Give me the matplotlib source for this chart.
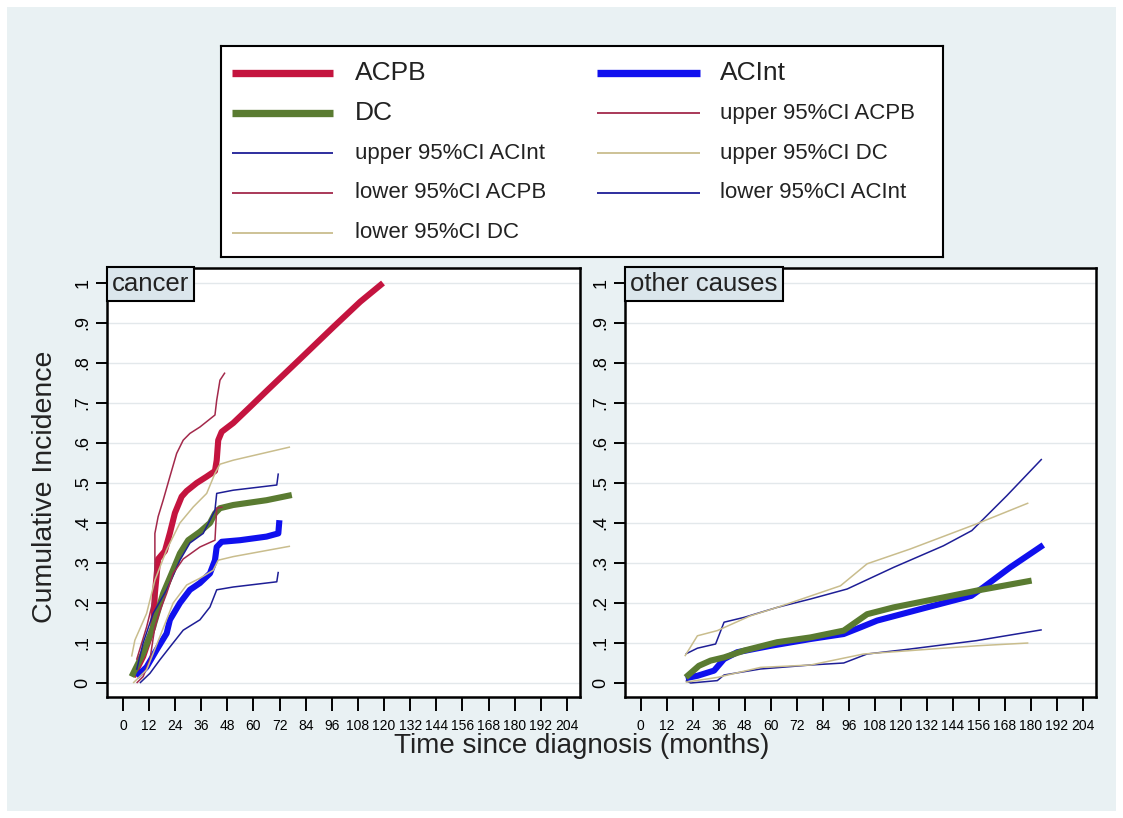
import numpy as np
import matplotlib.pyplot as plt
from matplotlib.patches import Rectangle

plt.rcParams['font.family'] = ['Liberation Sans', 'DejaVu Sans']

# ---- data (months, cumulative incidence) ----
# cancer panel
ca_acpb_t = [4.7, 9.3, 13.9, 14.7, 16.2, 19.3, 21.6, 23.9, 27.0, 29.3, 33.9, 38.5, 42.3, 43.1, 43.8, 45.4, 50.7, 58.4, 66.0, 81.4, 96.7, 109.0, 119.5]
ca_acpb_v = [0.016, 0.066, 0.14, 0.224, 0.31, 0.33, 0.375, 0.425, 0.466, 0.48, 0.50, 0.516, 0.53, 0.557, 0.607, 0.628, 0.65, 0.69, 0.73, 0.81, 0.89, 0.953, 1.0]
ca_acint_t = [6.3, 10.9, 15.5, 20.1, 21.6, 26.2, 30.8, 35.4, 40.0, 42.3, 43.1, 45.4, 53.8, 66.0, 71.4, 71.9]
ca_acint_v = [0.016, 0.04, 0.083, 0.124, 0.158, 0.20, 0.233, 0.25, 0.274, 0.307, 0.34, 0.353, 0.357, 0.366, 0.374, 0.407]
ca_dc_t = [4.0, 9.3, 13.9, 18.5, 22.4, 26.2, 30.0, 35.4, 40.0, 42.3, 44.6, 50.7, 66.0, 77.6]
ca_dc_v = [0.016, 0.074, 0.14, 0.224, 0.274, 0.324, 0.357, 0.378, 0.40, 0.424, 0.437, 0.445, 0.457, 0.47]
ca_up_acpb_t = [6.3, 10.9, 14.7, 14.7, 16.2, 18.5, 21.6, 24.7, 27.7, 30.8, 35.4, 42.3, 43.1, 44.6, 46.9]
ca_up_acpb_v = [0.058, 0.14, 0.224, 0.374, 0.416, 0.457, 0.516, 0.574, 0.607, 0.624, 0.64, 0.67, 0.707, 0.757, 0.776]
ca_up_acint_t = [6.3, 9.3, 13.9, 20.1, 26.2, 30.8, 36.9, 42.3, 43.1, 50.7, 70.7, 71.4]
ca_up_acint_v = [0.033, 0.10, 0.174, 0.233, 0.307, 0.35, 0.374, 0.432, 0.474, 0.482, 0.495, 0.524]
ca_up_dc_t = [4.0, 5.5, 10.9, 14.7, 20.1, 26.2, 32.3, 38.5, 42.3, 44.6, 50.7, 76.8]
ca_up_dc_v = [0.066, 0.107, 0.174, 0.257, 0.333, 0.40, 0.44, 0.474, 0.524, 0.547, 0.557, 0.59]
ca_lo_acpb_t = [6.3, 9.3, 12.4, 14.7, 17.0, 20.1, 23.1, 27.7, 35.4, 42.3, 43.1, 45.8]
ca_lo_acpb_v = [0.0, 0.016, 0.058, 0.14, 0.18, 0.224, 0.274, 0.31, 0.34, 0.357, 0.437, 0.44]
ca_lo_acint_t = [7.8, 12.4, 17.0, 21.6, 27.7, 35.4, 40.0, 43.1, 50.7, 70.7, 71.4]
ca_lo_acint_v = [0.0, 0.024, 0.058, 0.09, 0.132, 0.158, 0.19, 0.233, 0.24, 0.253, 0.278]
ca_lo_dc_t = [4.7, 10.9, 17.0, 23.1, 29.3, 35.4, 41.5, 43.8, 50.7, 76.8]
ca_lo_dc_v = [0.0, 0.033, 0.116, 0.20, 0.245, 0.262, 0.282, 0.307, 0.316, 0.342]

# other causes panel (no ACPB curves here)
oc_acint_t = [20.7, 26.1, 33.8, 38.4, 44.5, 59.9, 78.3, 93.6, 101.3, 109.0, 132.0, 152.5, 158.0, 170.4, 185.7]
oc_acint_v = [0.012, 0.018, 0.031, 0.06, 0.077, 0.093, 0.11, 0.1225, 0.139, 0.156, 0.189, 0.218, 0.239, 0.289, 0.345]
oc_dc_t = [20.7, 26.8, 32.2, 38.4, 47.6, 62.9, 78.3, 93.6, 104.4, 116.6, 139.6, 155.0, 180.3]
oc_dc_v = [0.014, 0.043, 0.056, 0.064, 0.081, 0.102, 0.114, 0.131, 0.172, 0.189, 0.214, 0.231, 0.256]
oc_up_acint_t = [20.7, 26.1, 34.5, 38.4, 47.6, 62.9, 78.3, 95.2, 116.6, 139.6, 152.7, 168.8, 185.0]
oc_up_acint_v = [0.0725, 0.087, 0.0975, 0.152, 0.164, 0.189, 0.21, 0.235, 0.289, 0.343, 0.381, 0.468, 0.56]
oc_up_dc_t = [20.3, 26.1, 35.3, 50.6, 62.9, 92.1, 104.4, 124.3, 155.0, 178.8]
oc_up_dc_v = [0.067, 0.118, 0.131, 0.168, 0.189, 0.243, 0.298, 0.335, 0.398, 0.45]
oc_lo_acint_t = [20.7, 23.0, 35.3, 38.4, 55.2, 78.3, 93.6, 104.4, 124.3, 155.0, 185.0]
oc_lo_acint_v = [0.006, 0.0, 0.006, 0.02, 0.035, 0.045, 0.05, 0.0725, 0.085, 0.106, 0.133]
oc_lo_dc_t = [20.7, 35.3, 55.2, 78.3, 102.8, 124.3, 155.0, 178.8]
oc_lo_dc_v = [0.002, 0.014, 0.039, 0.045, 0.0725, 0.081, 0.093, 0.10]

labels = ["ACPB", "ACInt", "DC", "upper 95%CI ACPB", "upper 95%CI ACInt", "upper 95%CI DC",
          "lower 95%CI ACPB", "lower 95%CI ACInt", "lower 95%CI DC"]
x_ticks = np.arange(0, 205, 12)
y_ticks = np.round(np.arange(0, 1.01, 0.1), 1)
y_ticklabels = ["0", ".1", ".2", ".3", ".4", ".5", ".6", ".7", ".8", ".9", "1"]

# styles, same order as labels
colors = ["#c4143f", "#1010ee", "#5a7b31", "#a3294b", "#1e1e96", "#c9bd8d", "#a3294b", "#1e1e96", "#c9bd8d"]
widths = [4.4, 4.4, 4.4, 1.1, 1.1, 1.1, 1.1, 1.1, 1.1]
fontsizes = [19, 19, 19, 16, 16, 16, 16, 16, 16]

cancer = [(ca_acpb_t, ca_acpb_v), (ca_acint_t, ca_acint_v), (ca_dc_t, ca_dc_v),
          (ca_up_acpb_t, ca_up_acpb_v), (ca_up_acint_t, ca_up_acint_v), (ca_up_dc_t, ca_up_dc_v),
          (ca_lo_acpb_t, ca_lo_acpb_v), (ca_lo_acint_t, ca_lo_acint_v), (ca_lo_dc_t, ca_lo_dc_v)]
other = [None, (oc_acint_t, oc_acint_v), (oc_dc_t, oc_dc_v),
         None, (oc_up_acint_t, oc_up_acint_v), (oc_up_dc_t, oc_up_dc_v),
         None, (oc_lo_acint_t, oc_lo_acint_v), (oc_lo_dc_t, oc_lo_dc_v)]

W, H = 1123, 818
bg = "#e9f1f3"


def fig_box(x0, y0, x1, y1):
    # pixel box (top-left origin) -> figure fraction rect
    return [x0 / W, 1 - y1 / H, (x1 - x0) / W, (y1 - y0) / H]


fig = plt.figure(figsize=(W / 100, H / 100), dpi=100, facecolor="white")
fig.patches.append(Rectangle((7 / W, 7 / H), (1116 - 7) / W, (811 - 7) / H,
                             transform=fig.transFigure, facecolor=bg, edgecolor="none", zorder=-5))


def panel(box, series, title):
    ax = fig.add_axes(fig_box(*box))
    ax.set_facecolor("white")
    for (s, c, lw) in zip(series, colors, widths):
        if s is None:
            continue
        ax.plot(s[0], s[1], color=c, lw=lw, solid_capstyle="butt")
    ax.set_xlim(-7.3, 210)
    ax.set_ylim(-0.035, 1.0375)
    ax.set_xticks(x_ticks)
    ax.set_yticks(y_ticks)
    ax.set_yticklabels(y_ticklabels, rotation=90, va="center")
    ax.tick_params(axis="x", length=10, width=1.4, labelsize=10, pad=6, color="black")
    ax.tick_params(axis="y", length=8, width=1.4, labelsize=13, pad=3, color="black")
    ax.yaxis.grid(True, color="#e3e8eb", lw=1.0)
    ax.set_axisbelow(True)
    for sp in ax.spines.values():
        sp.set_linewidth(1.8)
        sp.set_color("black")
    ax.annotate(title, xy=(0, 1), xycoords="axes fraction", xytext=(5, -4),
                textcoords="offset pixels", ha="left", va="top", fontsize=18.5, color="#222222",
                bbox=dict(boxstyle="square,pad=0.2", fc="#dbe6ec", ec="black", lw=1.5))
    return ax


ax1 = panel((107, 268, 580, 697), cancer, "cancer")
ax2 = panel((625, 268, 1096, 697), other, "other causes")

fig.text(45 / W, 1 - 487 / H, "Cumulative Incidence", rotation=90, fontsize=20.5,
         ha="center", va="center", color="#222222")
fig.text(582 / W, 1 - 746 / H, "Time since diagnosis (months)", fontsize=20,
         ha="center", va="center", color="#222222")

# legend box drawn by hand (rows of different text sizes)
lax = fig.add_axes(fig_box(221, 46, 943, 257))
lax.set_xlim(221, 943)
lax.set_ylim(257, 46)
lax.set_xticks([])
lax.set_yticks([])
lax.set_facecolor("white")
for sp in lax.spines.values():
    sp.set_linewidth(1.5)
    sp.set_color("black")
line_x = [(232, 333), (597, 700)]
text_x = [355, 720]
for i, lab in enumerate(labels):
    row, col = i // 2, i % 2
    y = 73 + 40 * row
    lax.plot(line_x[col], [y, y], color=colors[i], lw=widths[i] * 1.2 if widths[i] > 2 else 1.3,
             solid_capstyle="butt")
    lax.text(text_x[col], y, lab, fontsize=fontsizes[i], va="center", ha="left", color="#222222")

fig.savefig("out.png", dpi=100, facecolor="white")
